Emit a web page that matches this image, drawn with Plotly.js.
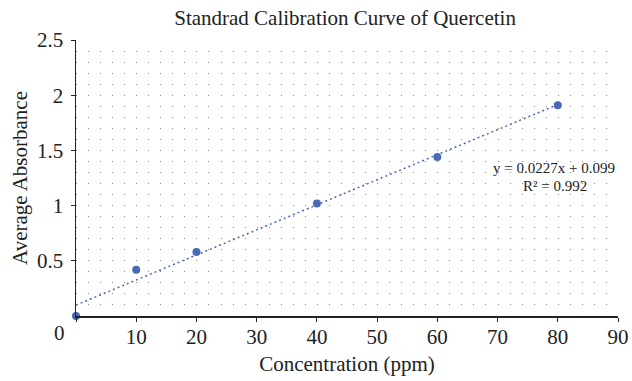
<!DOCTYPE html>
<html>
<head>
<meta charset="utf-8">
<script src="https://cdn.plot.ly/plotly-3.0.1.min.js"></script>
<style>html,body{margin:0;padding:0;background:#fff;}#chart{width:632px;height:381px;}</style>
</head>
<body>
<div id="chart"></div>
<script>
// Data
const concentration = [0, 10, 20, 40, 60, 80];
const absorbance = [0, 0.42, 0.58, 1.02, 1.44, 1.91];
const fitSlope = 0.0227;
const fitIntercept = 0.099;
const fitR2 = 0.992;
const xTickVals = [0, 10, 20, 30, 40, 50, 60, 70, 80, 90];
const yTickVals = [0.5, 1, 1.5, 2, 2.5];
const yTickText = ['0.5', '1', '1.5', '2', '2.5'];

const trendX = [concentration[0], concentration[concentration.length - 1]];
const trendY = trendX.map(x => fitSlope * x + fitIntercept);

const blue = '#4a68b4';
const font = 'Liberation Serif, Times New Roman, serif';
const ink = '#222';

const W = 632, H = 381, ml = 76, mr = 14, mt = 40, mb = 65;
const plotW = W - ml - mr;
const pxPer2 = plotW / 90 * 2;
const gridDash = '1px,' + (pxPer2 - 1).toFixed(3) + 'px';

const traces = [
  {
    x: trendX, y: trendY, type: 'scatter', mode: 'lines',
    line: {color: blue, width: 1.5, dash: '2px,3px'},
    hoverinfo: 'skip', showlegend: false
  },
  {
    x: concentration, y: absorbance, type: 'scatter', mode: 'markers',
    marker: {color: blue, size: 8},
    cliponaxis: false, showlegend: false
  }
];

const layout = {
  width: W, height: H,
  margin: {l: ml, r: mr, t: mt, b: mb},
  paper_bgcolor: '#fff', plot_bgcolor: '#fff',
  font: {family: font, size: 21, color: ink},
  title: {text: 'Standrad Calibration Curve of Quercetin', x: 0.546, xanchor: 'center', y: 0.953, yanchor: 'middle', font: {family: font, size: 21, color: ink}},
  showlegend: false,
  xaxis: {
    range: [0, 90], tickvals: xTickVals,
    ticktext: xTickVals.map(v => v === 0 ? '' : String(v)),
    showline: true, linecolor: ink, linewidth: 1.5,
    ticks: 'outside', ticklen: 4, tickcolor: ink, tickwidth: 1,
    showgrid: false, zeroline: false,
    tickfont: {family: font, size: 21, color: ink},
    ticklabelstandoff: -3,
    title: {text: 'Concentration (ppm)', font: {family: font, size: 21, color: ink}, standoff: 8}
  },
  yaxis: {
    range: [0, 2.5], tickvals: yTickVals, ticktext: yTickText,
    showline: true, linecolor: ink, linewidth: 1.5,
    ticks: 'outside', ticklen: 4, tickcolor: ink, tickwidth: 1,
    showgrid: true, gridcolor: '#888', gridwidth: 1, griddash: gridDash,
    zeroline: false,
    minor: {dtick: 0.1, showgrid: true, gridcolor: '#888', gridwidth: 1, griddash: gridDash, ticks: ''},
    tickfont: {family: font, size: 21, color: ink},
    ticklabelstandoff: 3,
    title: {text: 'Average Absorbance', font: {family: font, size: 21, color: ink}, standoff: 3}
  },
  annotations: [
    {xref: 'paper', yref: 'paper', x: -0.03, y: 0, xanchor: 'center', yanchor: 'top', yshift: -3,
     text: '0', showarrow: false, font: {family: font, size: 21, color: ink}},
    {xref: 'x', yref: 'y', x: 79.3, y: 1.345, xanchor: 'center', yanchor: 'middle',
     text: 'y = ' + fitSlope + 'x + ' + fitIntercept, showarrow: false, font: {family: font, size: 15, color: ink}},
    {xref: 'x', yref: 'y', x: 79.5, y: 1.18, xanchor: 'center', yanchor: 'middle',
     text: 'R² = ' + fitR2, showarrow: false, font: {family: font, size: 15, color: ink}}
  ]
};

Plotly.newPlot('chart', traces, layout, {displayModeBar: false, staticPlot: true});
</script>
</body>
</html>
